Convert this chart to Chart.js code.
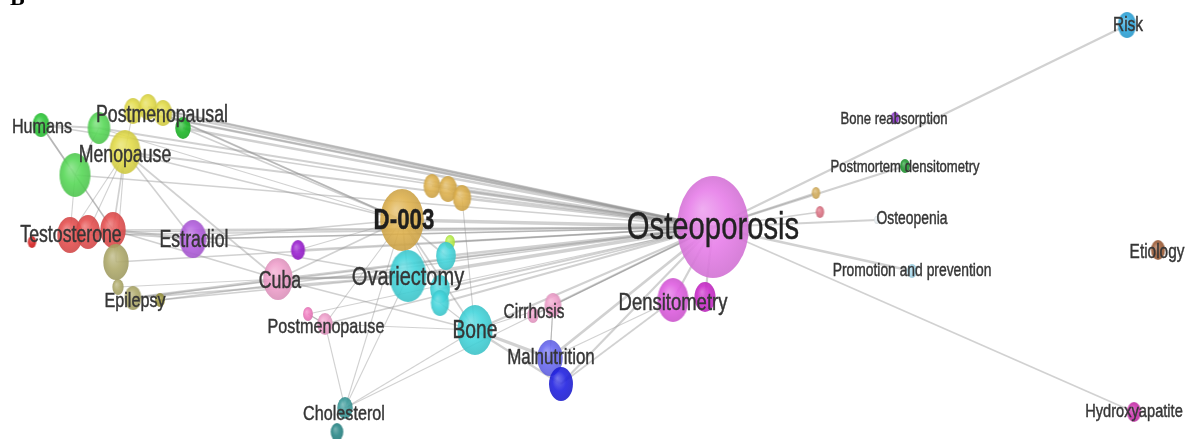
<!DOCTYPE html>
<html>
<head>
<meta charset="utf-8">
<style>
  html, body { margin: 0; padding: 0; background: #ffffff; }
  #wrap { width: 1186px; height: 439px; position: relative; }
</style>
<script src="https://cdn.jsdelivr.net/npm/chart.js@4.4.1/dist/chart.umd.min.js"></script>
</head>
<body>
<div id="wrap"><canvas id="c" width="1186" height="439"></canvas></div>
<script>
// ---------------- DATA ----------------
const nodeNames = ['Osteoporosis','Humans','G1','G2','G3','Y1','Y2','Y3','Menopause','R1','R2','R3','R4','O1','O2','O3','O4','Estradiol','P1','Cuba','D-003','GD1','GD2','GD3','LG','Ovariectomy','C1','C2','C3','Bone','PM1','Postmenopause','Cholesterol','CH2','Cirrhosis','CI2','Malnutrition','MA2','Densitometry','DE2','SG','SP','Bone reabsorption','Postmortem densitometry','Osteopenia','Promotion and prevention','Risk','Etiology','Hydroxyapatite'];
const nodeX = [713,41,99,183,75,133,148,163,125,70,88,113,32,116,118,133,160,193,298,278,402,432,448,462,450,408,446,440,440,475,308,325,345,337,553,533,550,561,673,705,816,820,895,905,877,912,1127,1158,1134];
const nodeY = [227,125,128,128,175,111,107,113,152,235,232,230,242,262,287,298,300,239,250,279,220,186,189,198,242,276,256,289,303,330,314,324,408,432,305,315,358,384,300,297,193,212,118,166,220,271,25,250,412];
const nodeSize = [51,12,16,11,22,13,13,13,22,18,17,18,6,18,8,12,7,19,10,21,31,12,13,13,7,26,14,14,13,25,7,11,11,9,12,8,18,17,22,15,6,6,6,7,4,7,13,10,10];
const nodeGroup = ['ost','humans','green','dgreen','green','yellow','yellow','yellow','yellow','red','red','red','dred','olive','olive','olive','dolive','purple','dpurple','pink','gold','gold','gold','gold','lime','cyan','cyan','cyan','cyan','cyan','hpink','pink','teal','dteal','pink','pink','blue','dblue','magenta','dmagenta','sgold','spink','violet','fgreen','faint','lblue','sky','brown','hmag'];

// edges: from node index, to node index, weight
const edgeFrom = [0,0,0,0,0,0,0,0,0,0,0,0,0,0,0,0,0,0,0,0,0,0,0,0,0,0,0,0,0,0,0,0,0,0,0,
                  0,0,0,0,0,0,0,0,
                  1,1,1,2,8,8,8,4,4,8,8,5,7,3,11,11,13,15,15,17,17,18,19,19,19,
                  20,20,20,20,20,20,21,22,23,25,31,29,29,29,29,34,36,37,31,30,28,36,5,6,
                  8,10,13,16,19,2,6,17,30,14];
const edgeTo   = [2,3,5,6,7,8,11,17,19,15,20,21,22,23,24,25,26,27,28,29,31,34,36,37,38,39,40,41,43,44,45,46,48,18,1,
                  9,10,4,13,30,35,32,16,
                  2,11,4,4,9,10,11,9,11,17,19,8,20,20,17,19,11,19,25,20,25,20,25,29,20,
                  25,26,27,29,31,32,22,23,29,32,32,32,36,37,34,36,38,38,29,31,29,34,0,0,
                  20,17,8,25,25,20,20,0,31,19];
const edgeWeight = [2,2.5,2.5,2.5,2,2,1.5,1.5,2,1.5,3,2,2.5,2.5,1.5,3,2.5,2,2,2,1.5,2,2.5,2,2,2,2,1.5,2,2,2.5,2,1.5,1.5,1.5,
                    1.5,1.5,1.5,1.5,1,1,1,1.5,
                    2,1.5,1.5,1,1,1,1.5,1,1,1.5,1.5,1,1.5,1.5,2.5,1.5,1,2.5,2,1.5,1.5,1,2.5,1.5,1.5,
                    1.5,1.5,1,1.5,1,1,1,1,1,1,1,1,3,2,1,1,1,1.5,1,1,1,1,1.5,1.5,
                    1.5,1.5,1,1.5,2,1,1.5,1.5,1,1];

// labels
const labelTexts = ['Osteoporosis','Postmenopausal','Menopause','Humans','Testosterone','Estradiol','Epilepsy','Cuba','D-003','Ovariectomy','Bone','Postmenopause','Cholesterol','Cirrhosis','Malnutrition','Densitometry','Bone reabsorption','Postmortem densitometry','Osteopenia','Promotion and prevention','Risk','Etiology','Hydroxyapatite'];
const labelX = [713,162,125,42,71,194,135,280,404,408,475,326,344,534,551,673,894,905,912,912,1128,1157,1134];
const labelY = [229,116,156,127,236,241,301,282,221,278,331,327,414,312,358,303,119,167,219,271,25,252,412];
const labelSize = [38,23,23,21,23,23,21,23,29,26,25,21,21,20,22,24,17,17,18,18,20,20,19];

// ---------------- STYLES ----------------
const groupColor = {
  ost:'#e77ee9', humans:'#2fc93a', green:'#58d958', dgreen:'#1fb82a', yellow:'#e3dc4a',
  red:'#e65050', dred:'#d92222', olive:'#b0ab6c', dolive:'#9c9640', purple:'#b45fe0', dpurple:'#9a1fd0',
  pink:'#f0a0cc', hpink:'#f07cc0', gold:'#dfb24e', lime:'#b8ee4a', cyan:'#44d6dc', teal:'#3d9c9c', dteal:'#2a8888',
  blue:'#6a6af2', dblue:'#2222e2', magenta:'#e05ee2', dmagenta:'#cc2ccc', sgold:'#d4ae5e', spink:'#dc7384',
  violet:'#8a30cc', fgreen:'#239a34', faint:'#e8eef2', lblue:'#a8dcf0', sky:'#2fa8de', brown:'#a05e38', hmag:'#cc32ae'
};

function shade(hex, amt) {
  let r = parseInt(hex.slice(1,3),16), g = parseInt(hex.slice(3,5),16), b = parseInt(hex.slice(5,7),16);
  if (amt >= 0) { r += (255-r)*amt; g += (255-g)*amt; b += (255-b)*amt; }
  else { r *= (1+amt); g *= (1+amt); b *= (1+amt); }
  return 'rgb(' + Math.round(r) + ',' + Math.round(g) + ',' + Math.round(b) + ')';
}
const ASPECT = 1.42; // horizontal squeeze of the original picture
function makeSphere(color, size) {
  const rx = size / ASPECT, ry = size;
  const cv = document.createElement('canvas');
  cv.width = Math.ceil(rx*2+2); cv.height = Math.ceil(ry*2+2);
  const c = cv.getContext('2d');
  c.translate(cv.width/2, cv.height/2);
  c.scale(rx/ry, 1);
  const g = c.createRadialGradient(-ry*0.3, -ry*0.35, 0, 0, 0, ry*1.05);
  g.addColorStop(0, shade(color, 0.3));
  g.addColorStop(0.55, color);
  g.addColorStop(1, shade(color, -0.1));
  c.globalAlpha = 0.9;
  c.beginPath(); c.arc(0, 0, ry, 0, Math.PI*2); c.fillStyle = g; c.fill();
  return cv;
}

const nodePoints = nodeX.map((x,i) => ({x: x, y: nodeY[i]}));
const sphereImgs = nodeGroup.map((g,i) => makeSphere(groupColor[g], nodeSize[i]));

const datasets = [];
datasets.push({
  label: 'nodes', data: nodePoints, order: 0,
  pointStyle: sphereImgs, pointRadius: nodeSize, pointHoverRadius: nodeSize, clip: false
});
for (let k = 0; k < edgeFrom.length; k++) {
  const a = edgeFrom[k], b = edgeTo[k];
  datasets.push({
    label: 'e' + k, order: 1, showLine: true, clip: false,
    data: [nodePoints[a], nodePoints[b]],
    pointRadius: 0, pointHoverRadius: 0,
    borderColor: 'rgba(145,145,145,0.42)', borderWidth: edgeWeight[k] * 1.1
  });
}

const labelPlugin = {
  id: 'nodeLabels',
  afterDatasetsDraw(chart) {
    const ctx = chart.ctx, xs = chart.scales.x, ys = chart.scales.y;
    ctx.save();
    for (let i = 0; i < labelTexts.length; i++) {
      const px = xs.getPixelForValue(labelX[i]), py = ys.getPixelForValue(labelY[i]);
      const bold = labelTexts[i] === 'D-003';
      ctx.save();
      ctx.translate(px, py);
      ctx.scale(0.77, 1);
      ctx.font = (bold ? 'bold ' : '') + labelSize[i] + 'px "Liberation Sans", Arial, sans-serif';
      ctx.textAlign = 'center'; ctx.textBaseline = 'middle';
      const col = bold ? '#1e1e1e' : (i === 0 ? '#222222' : '#363636');
      ctx.fillStyle = col; ctx.strokeStyle = col; ctx.lineWidth = 0.45;
      ctx.fillText(labelTexts[i], 0, 0);
      ctx.strokeText(labelTexts[i], 0, 0);
      ctx.restore();
    }
    // panel letter
    ctx.font = 'bold 22px "Liberation Serif", serif';
    ctx.fillStyle = '#000'; ctx.textAlign = 'left'; ctx.textBaseline = 'alphabetic';
    ctx.fillText('B', 10, 5);
    ctx.restore();
  }
};

new Chart(document.getElementById('c'), {
  type: 'scatter',
  data: { datasets: datasets },
  options: {
    responsive: false, animation: false,
    layout: { padding: 0, autoPadding: false },
    plugins: { legend: { display: false }, tooltip: { enabled: false } },
    scales: {
      x: { type: 'linear', min: 0, max: 1186, display: false },
      y: { type: 'linear', min: 0, max: 439, reverse: true, display: false }
    }
  },
  plugins: [labelPlugin]
});
</script>
</body>
</html>
